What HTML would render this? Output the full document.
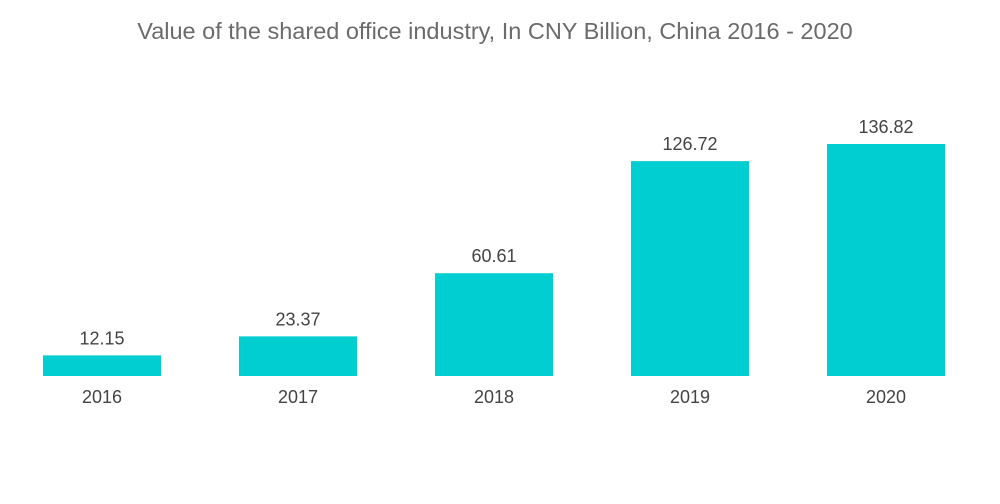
<!DOCTYPE html>
<html><head><meta charset="utf-8"><style>
body{margin:0;background:#fff;}
svg{display:block;font-family:"Liberation Sans",sans-serif;}
</style></head><body>
<svg id="chart" width="1000" height="504">
<text x="495" y="39" text-anchor="middle" font-size="23.5" fill="#6b6b6b">Value of the shared office industry, In CNY Billion, China 2016 - 2020</text>
<g id="bars"></g>
</svg>
<script>
const categories=["2016","2017","2018","2019","2020"];
const values=[12.15,23.37,60.61,126.72,136.82];
const valueLabels=["12.15","23.37","60.61","126.72","136.82"];
const baseY=376, scale=232/136.82, x0=43, pitch=196, bw=118;
const yPos=v=>baseY-v*scale;
const xPos=i=>x0+i*pitch;
const g=document.getElementById('bars');
const NS="http://www.w3.org/2000/svg";
categories.forEach((c,i)=>{
  const r=document.createElementNS(NS,'rect');
  r.setAttribute('x',xPos(i));r.setAttribute('y',yPos(values[i]));
  r.setAttribute('width',bw);r.setAttribute('height',baseY-yPos(values[i]));
  r.setAttribute('fill','#00CED1');
  
  
  g.appendChild(r);
  const t=document.createElementNS(NS,'text');
  t.setAttribute('x',xPos(i)+bw/2);t.setAttribute('y',yPos(values[i])-11);
  t.setAttribute('text-anchor','middle');t.setAttribute('font-size','18');t.setAttribute('fill','#444');
  t.textContent=valueLabels[i];
  
  
  g.appendChild(t);
  const l=document.createElementNS(NS,'text');
  l.setAttribute('x',xPos(i)+bw/2);l.setAttribute('y',403);
  l.setAttribute('text-anchor','middle');l.setAttribute('font-size','18');l.setAttribute('fill','#444');
  l.textContent=c;
  
  
  g.appendChild(l);
});
</script>
</body></html>
